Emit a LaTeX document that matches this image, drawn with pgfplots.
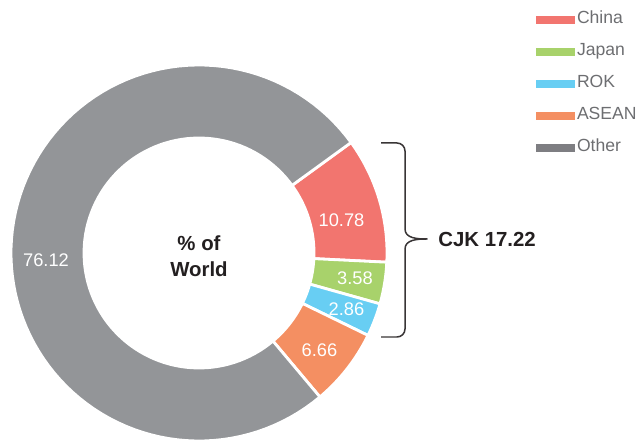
\documentclass[border=0pt]{standalone}
\usepackage{fontspec}
\setmainfont{Liberation Sans}
\usepackage{pgfplots}
\usepackage{pgfplotstable}
\pgfplotsset{compat=1.18}

\definecolor{c0}{HTML}{F2756F}   % China
\definecolor{c1}{HTML}{A8D26B}   % Japan
\definecolor{c2}{HTML}{68CEF3}   % ROK
\definecolor{c3}{HTML}{F48F62}   % ASEAN
\definecolor{c4}{HTML}{939598}   % Other
\definecolor{legother}{HTML}{7E7E82}
\definecolor{darktext}{HTML}{231F20}
\definecolor{legtext}{HTML}{6D6E71}

\pgfplotsset{
  swatch/.style={legend image code/.code={\fill[##1] (0mm,-0.85mm) rectangle (7.8mm,0.85mm);}},
}

% share of world, %
\pgfplotstableread{
name   value
China  10.78
Japan  3.58
ROK    2.86
ASEAN  6.66
Other  76.12
}\shares

\begin{document}
\begin{tikzpicture}
  % start/end angle of every slice, clockwise from 36 deg
  \xdef\acc{36}
  \foreach \i in {0,...,4}{
    \pgfplotstablegetelem{\i}{value}\of\shares
    \pgfmathsetmacro\b{\acc-3.6*\pgfplotsretval}
    \expandafter\xdef\csname sA\i\endcsname{\acc}
    \expandafter\xdef\csname sB\i\endcsname{\b}
    \xdef\acc{\b}
  }
  \begin{axis}[
    scale only axis,
    width=12.78cm, height=8.78cm,
    xmin=0, xmax=639, ymin=0, ymax=439,
    hide axis,
    legend cell align=left,
    legend style={
      at={(axis cs:536,427.5)}, anchor=north west,
      draw=none, fill=none, inner sep=0pt, outer sep=0pt,
      row sep=3.0mm, column sep=0.4mm,
      nodes={inner sep=0pt, text=legtext, font=\fontsize{10}{12}\selectfont,
             text height=2.5mm, text depth=0.9mm},
    },
  ]
    \addplot[draw=none, forget plot] coordinates {(0,0) (639,439)};
    % donut slices: outer arc, radial edge, inner arc back
    \pgfplotsinvokeforeach{0,...,4}{
      \addplot[fill=c#1, draw=white, line width=1.6pt, line join=miter,
               samples=301, domain=0:3, variable=\t, forget plot]
      ({199+((\t<1) ? 188 : ((\t<2) ? (188-73*(\t-1)) : 115))*cos(((\t<1) ? (\csname sA#1\endcsname+(\csname sB#1\endcsname-\csname sA#1\endcsname)*\t) : ((\t<2) ? \csname sB#1\endcsname : (\csname sB#1\endcsname+(\csname sA#1\endcsname-\csname sB#1\endcsname)*(\t-2)))))},
       {186+((\t<1) ? 188 : ((\t<2) ? (188-73*(\t-1)) : 115))*sin(((\t<1) ? (\csname sA#1\endcsname+(\csname sB#1\endcsname-\csname sA#1\endcsname)*\t) : ((\t<2) ? \csname sB#1\endcsname : (\csname sB#1\endcsname+(\csname sA#1\endcsname-\csname sB#1\endcsname)*(\t-2)))))})
      -- cycle;
    }

    \addlegendimage{swatch, fill=c0, draw=none}\addlegendentry{China}
    \addlegendimage{swatch, fill=c1, draw=none}\addlegendentry{Japan}
    \addlegendimage{swatch, fill=c2, draw=none}\addlegendentry{ROK}
    \addlegendimage{swatch, fill=c3, draw=none}\addlegendentry{ASEAN}
    \addlegendimage{swatch, fill=legother, draw=none}\addlegendentry{Other}

    % slice labels
    \begin{scope}[every node/.style={text=white, font=\fontsize{10.4}{12}\selectfont, inner sep=0pt}]
      \node at (axis cs:341.5,219) {10.78};
      \node at (axis cs:355,160.5) {3.58};
      \node at (axis cs:346.5,130) {2.86};
      \node at (axis cs:319.5,89) {6.66};
      \node at (axis cs:46,179) {76.12};
    \end{scope}

    % centre text
    \node[text=darktext, font=\bfseries\fontsize{11.6}{14}\selectfont, inner sep=0pt] at (axis cs:199,196) {\% of};
    \node[text=darktext, font=\bfseries\fontsize{11.6}{14}\selectfont, inner sep=0pt] at (axis cs:199,170) {World};

    % brace over China, Japan and ROK
    \draw[darktext!90, line width=0.85pt, line join=round]
      (axis cs:381,296) -- (axis cs:397,296)
      to[out=0, in=90] (axis cs:405,288)
      -- (axis cs:405,210)
      to[out=-90, in=180] (axis cs:427,200)
      to[out=180, in=90] (axis cs:405,190)
      -- (axis cs:405,110)
      to[out=-90, in=0] (axis cs:397,102)
      -- (axis cs:381,102);
    \node[text=darktext, font=\bfseries\fontsize{11.6}{14}\selectfont, anchor=west, inner sep=0pt]
      at (axis cs:438,200) {CJK 17.22};
  \end{axis}
\end{tikzpicture}
\end{document}
